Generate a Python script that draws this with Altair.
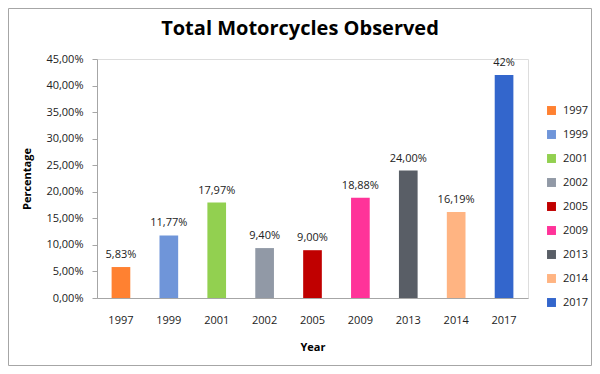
import altair as alt
import pandas as pd

title_text = ["Total Motorcycles Observed"]
years = ["1997", "1999", "2001", "2002", "2005", "2009", "2013", "2014", "2017"]
values = [0.0583, 0.1177, 0.1797, 0.0940, 0.0900, 0.1888, 0.2400, 0.1619, 0.42]
labels = ["5,83%", "11,77%", "17,97%", "9,40%", "9,00%", "18,88%", "24,00%", "16,19%", "42%"]
colors = ["#FF8131", "#6F95D9", "#92D050", "#9199A6", "#C00000", "#FF3399", "#595E66", "#FFB482", "#3366CC"]
y_ticks = [0, 0.05, 0.10, 0.15, 0.20, 0.25, 0.30, 0.35, 0.40, 0.45]

df = pd.DataFrame({"Year": years, "Value": values, "Label": labels})
tdf = pd.DataFrame({"t": title_text})

FONT = "Open Sans"

x = alt.X("Year:N", title="Year", sort=years,
          scale=alt.Scale(paddingInner=0.61, paddingOuter=0.305),
          axis=alt.Axis(labelAngle=0, ticks=False, labelPadding=16, domainColor="#A6A6A6",
                        labelFontSize=11, labelColor="#222222", labelFont=FONT,
                        titleFont=FONT, titleFontSize=11, titleFontWeight="bold",
                        titlePadding=16, titleColor="#000000", grid=False))

y = alt.Y("Value:Q", title="Percentage",
          scale=alt.Scale(domain=[0, 0.45], nice=False),
          axis=alt.Axis(values=y_ticks, labelOverlap=False, tickCount=10,
                        labelExpr="replace(format(datum.value, '.2%'), '.', ',')",
                        tickSize=5, tickColor="#A6A6A6", domainColor="#A6A6A6",
                        labelPadding=9, labelFontSize=11, labelColor="#222222", labelFont=FONT,
                        titleFont=FONT, titleFontSize=11, titleFontWeight="bold",
                        titlePadding=13, titleColor="#000000", grid=False))

bars = alt.Chart(df).mark_bar().encode(
    x=x,
    y=y,
    color=alt.Color("Year:N", sort=years,
                    scale=alt.Scale(domain=years, range=colors),
                    legend=alt.Legend(title=None, orient="none", legendX=449, legendY=46,
                                      symbolType="square", symbolSize=80, symbolStrokeWidth=0,
                                      rowPadding=12, labelFontSize=11, labelFont=FONT,
                                      labelColor="#222222", labelOffset=6)),
)

text = alt.Chart(df).mark_text(dy=-12, fontSize=11, font=FONT, color="#222222").encode(
    x=x,
    y=y,
    text="Label:N",
)

title = alt.Chart(tdf).mark_text(fontSize=20, font=FONT, fontWeight="bold", color="#000000").encode(
    text="t:N", x=alt.value(203), y=alt.value(-30)
)

frame = alt.Chart(tdf).mark_rect(fill=None, stroke="#A6A6A6", strokeWidth=1).encode(
    x=alt.value(-88.5), x2=alt.value(494.5), y=alt.value(-50.5), y2=alt.value(306.5)
)

chart = alt.layer(bars, text, title, frame).properties(
    width=431, height=239,
    autosize=alt.AutoSizeParams(type="none"),
    padding={"left": 89, "top": 51, "right": 64, "bottom": 68},
).configure_view(stroke=None).configure(background="white")

chart.save("out.html", embed_options={"renderer": "svg", "actions": False})
